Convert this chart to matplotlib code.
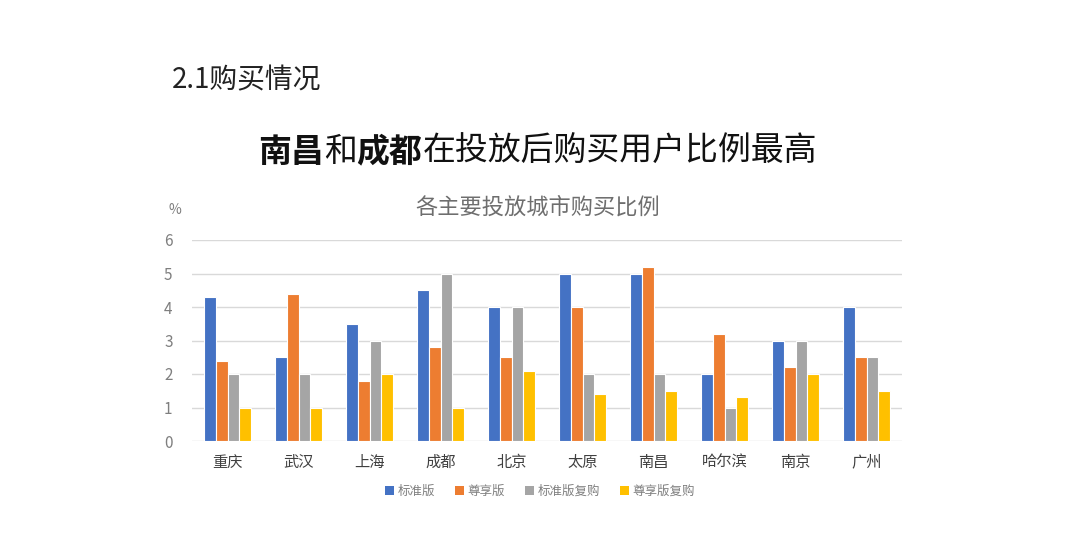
import numpy as np
import matplotlib
matplotlib.use('Agg')
import matplotlib.pyplot as plt
from matplotlib.patches import Patch

plt.rcParams['font.family'] = ['Noto Sans CJK SC', 'DejaVu Sans']

# --- data ---
cities = ['重庆', '武汉', '上海', '成都', '北京', '太原', '南昌', '哈尔滨', '南京', '广州']
series_names = ['标准版', '尊享版', '标准版复购', '尊享版复购']
standard = [4.3, 2.5, 3.5, 4.5, 4.0, 5.0, 5.0, 2.0, 3.0, 4.0]
premium = [2.4, 4.4, 1.8, 2.8, 2.5, 4.0, 5.2, 3.2, 2.2, 2.5]
standard_rebuy = [2.0, 2.0, 3.0, 5.0, 4.0, 2.0, 2.0, 1.0, 3.0, 2.5]
premium_rebuy = [1.0, 1.0, 2.0, 1.0, 2.1, 1.4, 1.5, 1.3, 2.0, 1.5]
yticks = [0, 1, 2, 3, 4, 5, 6]

colors = ['#4472C4', '#ED7D31', '#A5A5A5', '#FFC000']

fig = plt.figure(figsize=(10.8, 5.35), dpi=100)
ax = fig.add_axes([192 / 1080, 1 - 441 / 535, 710 / 1080, 201 / 535])

x = np.arange(len(cities))
w = 0.165
all_series = [standard, premium, standard_rebuy, premium_rebuy]
for i, (vals, c, name) in enumerate(zip(all_series, colors, series_names)):
    ax.bar(x + (i - 1.5) * w, vals, width=w, color=c, edgecolor='white',
           linewidth=0.8, label=name, zorder=3)

ax.set_xlim(-0.5, len(cities) - 0.5)
ax.set_ylim(0, 6)
ax.set_yticks(yticks)
ax.set_yticklabels([str(t) for t in yticks], fontsize=11, color='#7F7F7F')
ax.set_xticks(x)
ax.set_xticklabels(cities, fontsize=11, color='#404040')
ax.tick_params(axis='both', length=0)
ax.tick_params(axis='y', pad=14)
ax.tick_params(axis='x', pad=9)
ax.grid(axis='y', color='#D9D9D9', linewidth=1, zorder=0)
for s in ax.spines.values():
    s.set_visible(False)

fig.text(175 / 1080, 1 - 210 / 535, '%', fontsize=10, color='#7F7F7F',
         ha='center', va='center')
fig.text(538 / 1080, 1 - 207 / 535, '各主要投放城市购买比例', fontsize=16,
         color='#6E6E6E', ha='center', va='center')
fig.text(172 / 1080, 1 - 80 / 535, '2.1购买情况', fontsize=20,
         color='#222222', ha='left', va='center')

# headline with bold parts
pieces = [('南昌', 'bold'), ('和', 'normal'), ('成都', 'bold'),
          ('在投放后购买用户比例最高', 'normal')]
renderer = fig.canvas.get_renderer()
xpos = 258
ypos = 1 - 152 / 535
for txt, wt in pieces:
    t = fig.text(xpos / 1080, ypos, txt, fontsize=23.7, fontweight=wt,
                 color='#111111', ha='left', va='center')
    xpos += t.get_window_extent(renderer).width

handles = [Patch(facecolor=c, label=n) for c, n in zip(colors, series_names)]
fig.legend(handles=handles, loc='center', bbox_to_anchor=(540 / 1080, 1 - 491 / 535),
           ncol=4, frameon=False, fontsize=9, handlelength=0.7, handleheight=0.7,
           handletextpad=0.3, columnspacing=1.6, labelcolor='#7F7F7F')

fig.savefig('out.png', dpi=100)
